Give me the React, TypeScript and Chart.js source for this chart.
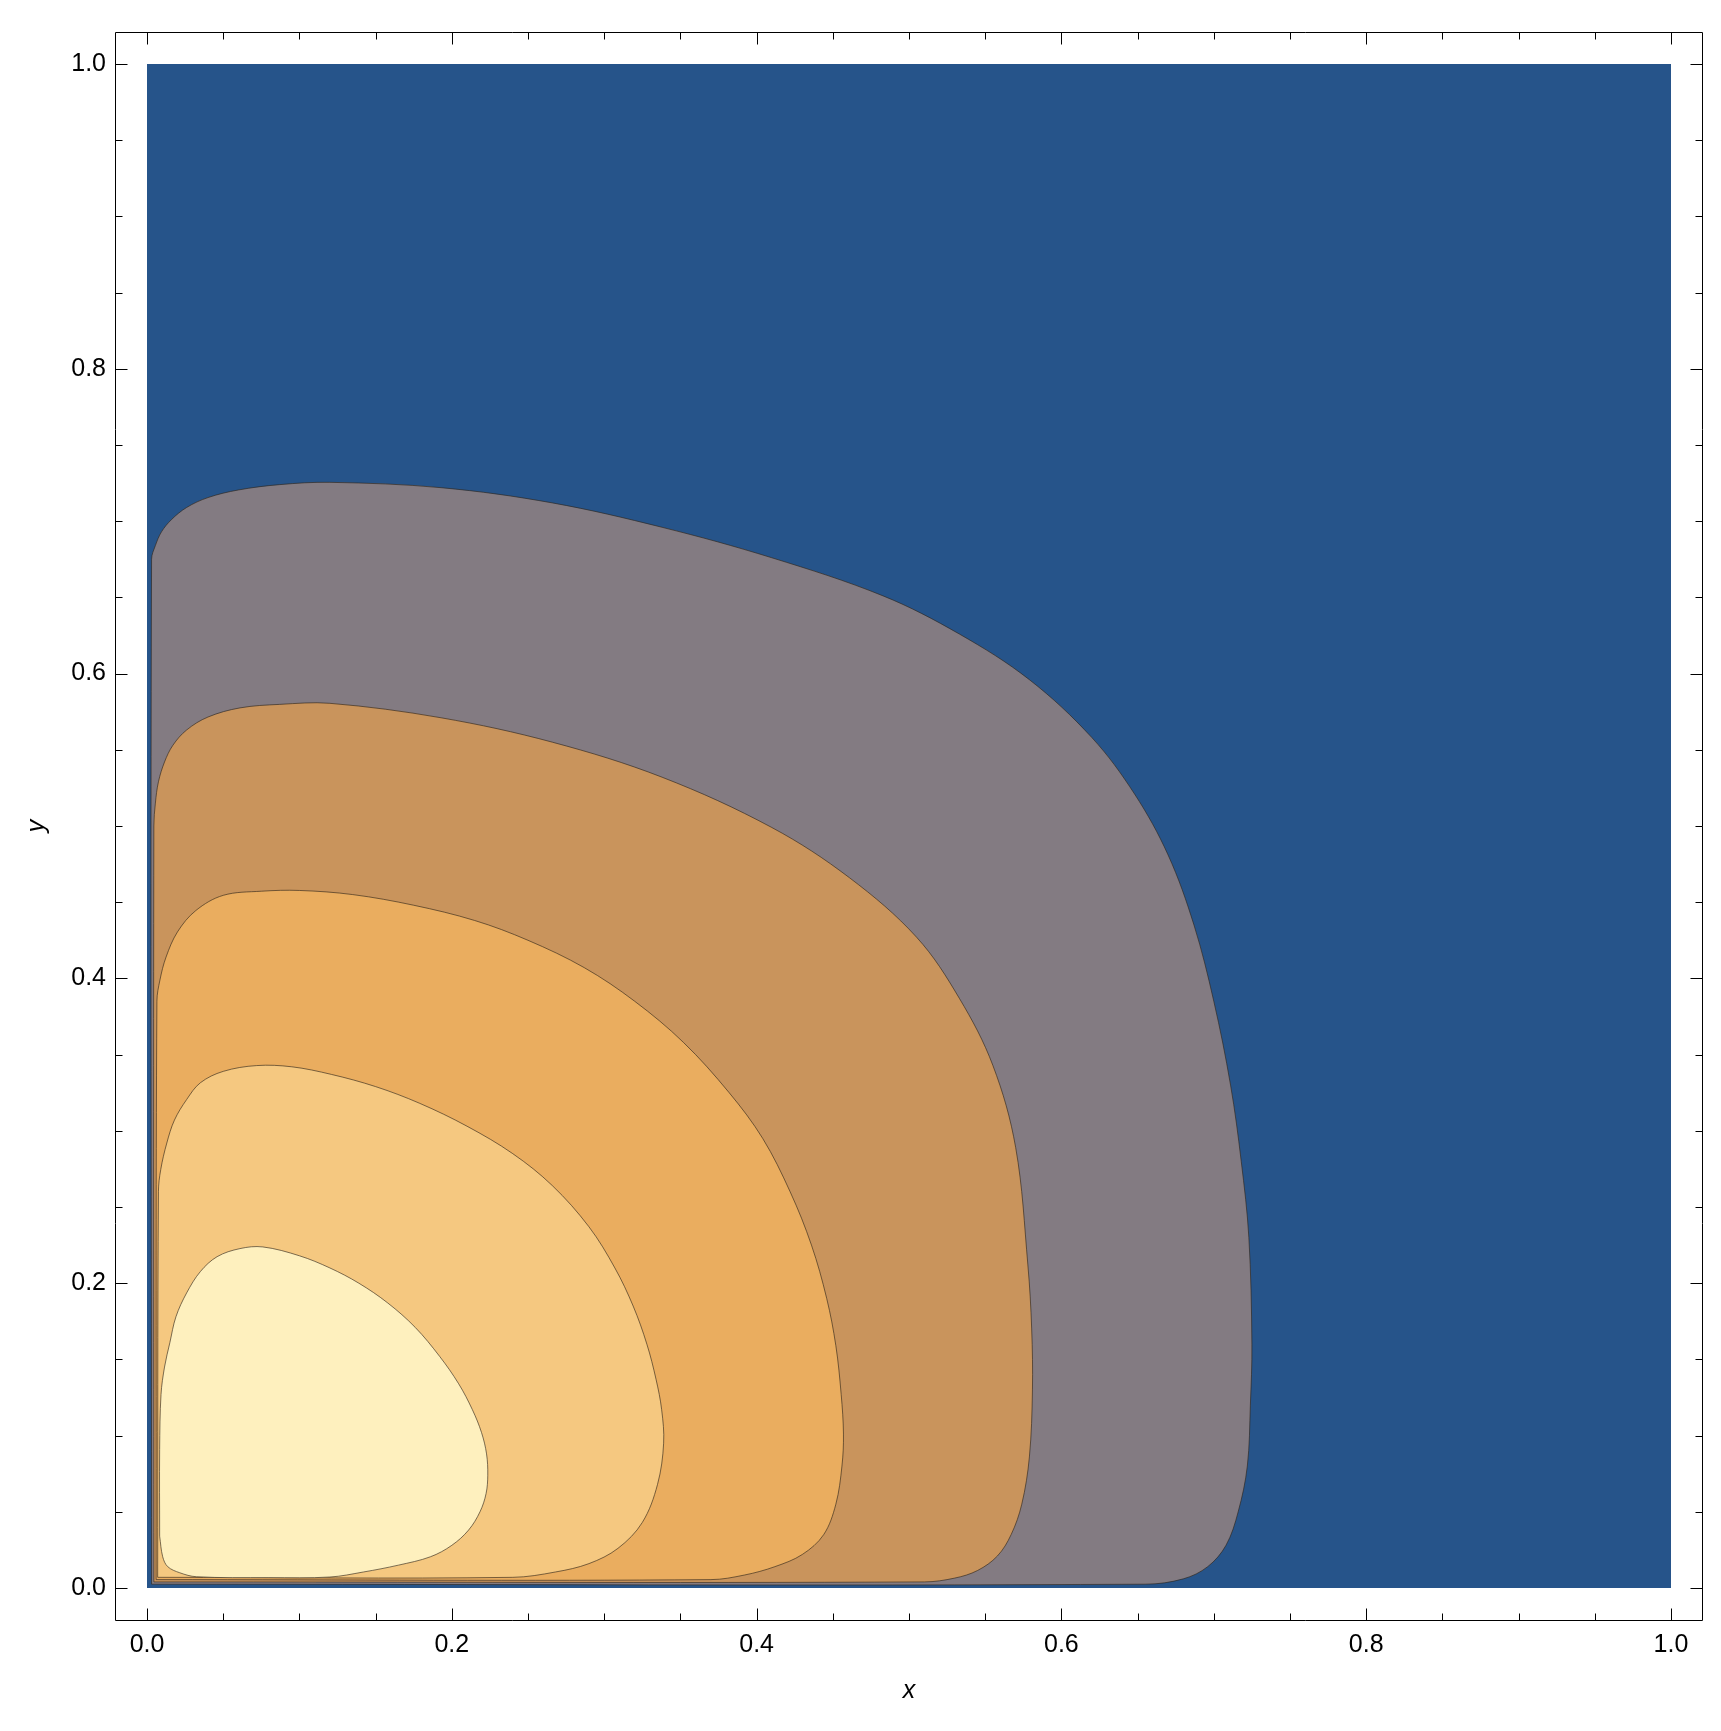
import React, { useEffect, useRef } from 'react';
import { Chart, registerables } from 'chart.js';

Chart.register(...registerables);

// ---- axes ----
const AXIS_MIN = -0.021;
const AXIS_MAX = 1.021;
const MAJOR_TICKS = [0, 0.2, 0.4, 0.6, 0.8, 1.0];
const MINOR_TICKS = [0.05, 0.1, 0.15, 0.25, 0.3, 0.35, 0.45, 0.5, 0.55, 0.65, 0.7, 0.75, 0.85, 0.9, 0.95];
const X_TITLE = 'x';
const Y_TITLE = 'y';

// ---- contour regions (outermost to innermost), [x, y] boundary points ----
const DOMAIN = [[0, 0], [1, 0], [1, 1], [0, 1]];

const LEVEL1 = [
  [0.003, 0.0025], [0.655, 0.0025], [0.68, 0.006], [0.696, 0.014], [0.708, 0.028], [0.716, 0.05],
  [0.722, 0.08], [0.724, 0.12], [0.725, 0.16], [0.723, 0.23], [0.718, 0.28], [0.711, 0.33],
  [0.7, 0.385], [0.687, 0.435], [0.67, 0.481], [0.648, 0.521], [0.62, 0.558], [0.579, 0.596],
  [0.533, 0.626], [0.483, 0.651], [0.41, 0.676], [0.338, 0.696], [0.266, 0.712], [0.193, 0.722],
  [0.12, 0.7255], [0.087, 0.724], [0.06, 0.7205], [0.04, 0.7155], [0.026, 0.709], [0.016, 0.701],
  [0.0095, 0.693], [0.0055, 0.684], [0.003, 0.675],
];

const LEVEL2 = [
  [0.0045, 0.004], [0.51, 0.004], [0.53, 0.0065], [0.545, 0.0115], [0.558, 0.021], [0.567, 0.035],
  [0.574, 0.055], [0.579, 0.086], [0.581, 0.13], [0.5805, 0.17], [0.578, 0.212], [0.57, 0.289],
  [0.555, 0.343], [0.533, 0.387], [0.505, 0.427], [0.461, 0.466], [0.41, 0.499], [0.338, 0.532],
  [0.266, 0.555], [0.193, 0.571], [0.12, 0.5805], [0.087, 0.5798], [0.061, 0.5775], [0.04, 0.5715],
  [0.026, 0.563], [0.017, 0.553], [0.0115, 0.542], [0.0075, 0.529], [0.0055, 0.515], [0.0045, 0.5],
];

const LEVEL3 = [
  [0.006, 0.0055], [0.37, 0.0055], [0.392, 0.0085], [0.412, 0.014], [0.43, 0.022], [0.444, 0.035],
  [0.452, 0.055], [0.456, 0.08], [0.457, 0.101], [0.4555, 0.127], [0.452, 0.159], [0.446, 0.19],
  [0.436, 0.225], [0.422, 0.26], [0.404, 0.295], [0.382, 0.325], [0.352, 0.358], [0.32, 0.385],
  [0.287, 0.407], [0.25, 0.425], [0.215, 0.438], [0.175, 0.448], [0.135, 0.455], [0.1, 0.4577],
  [0.075, 0.4572], [0.05, 0.4545], [0.032, 0.4445], [0.02, 0.4305], [0.0125, 0.414], [0.0085, 0.399],
  [0.0065, 0.385],
];

const LEVEL4 = [
  [0.007, 0.007], [0.24, 0.007], [0.268, 0.0105], [0.29, 0.016], [0.309, 0.026], [0.325, 0.043],
  [0.335, 0.068], [0.339, 0.095], [0.3377, 0.117], [0.334, 0.137], [0.328, 0.16], [0.319, 0.185],
  [0.307, 0.21], [0.29, 0.237], [0.266, 0.264], [0.24, 0.285], [0.21, 0.303], [0.179, 0.318],
  [0.15, 0.329], [0.121, 0.337], [0.095, 0.342], [0.072, 0.3428], [0.05, 0.339], [0.035, 0.3315],
  [0.026, 0.3205], [0.018, 0.307], [0.013, 0.292], [0.009, 0.2745], [0.0075, 0.26],
];

const LEVEL5 = [
  [0.0083, 0.034], [0.0103, 0.0205], [0.0136, 0.014], [0.0215, 0.01], [0.0324, 0.0074], [0.08, 0.0068],
  [0.12, 0.0072], [0.142, 0.0105], [0.165, 0.015], [0.186, 0.0205], [0.2, 0.028], [0.211, 0.038],
  [0.2185, 0.05], [0.2225, 0.062], [0.2236, 0.074], [0.2228, 0.088], [0.2195, 0.102], [0.2135, 0.117],
  [0.2045, 0.134], [0.192, 0.152], [0.176, 0.171], [0.158, 0.187], [0.139, 0.2], [0.12, 0.21],
  [0.1, 0.218], [0.076, 0.2238], [0.061, 0.2227], [0.046, 0.2174], [0.035, 0.2076], [0.026, 0.1936],
  [0.019, 0.178], [0.015, 0.161], [0.0115, 0.145], [0.0092, 0.127], [0.0083, 0.091],
];

const REGIONS = [LEVEL5, LEVEL4, LEVEL3, LEVEL2, LEVEL1, DOMAIN];
const REGION_COLORS = ['#FEF0BE', '#F5C880', '#EAAD5F', '#C9945C', '#837B82', '#26548A'];
const CONTOUR_LINE = 'rgba(45, 35, 25, 0.62)';

const FONT = "'Liberation Sans', Arial, sans-serif";

const frameTicks = {
  id: 'frameTicks',
  afterDraw(chart: any) {
    const { ctx, chartArea: a, scales } = chart;
    const xs = scales.x;
    const ys = scales.y;
    const L = Math.round(a.left) + 0.5;
    const R = Math.round(a.right) - 0.5;
    const T = Math.round(a.top) + 0.5;
    const B = Math.round(a.bottom) + 0.5;
    ctx.save();
    ctx.strokeStyle = '#000';
    ctx.lineWidth = 1;
    ctx.beginPath();
    ctx.rect(L, T, R - L, B - T);
    const draw = (vals: number[], len: number) => {
      for (const v of vals) {
        const px = Math.round(xs.getPixelForValue(v)) + 0.5;
        ctx.moveTo(px, B); ctx.lineTo(px, B - len);
        ctx.moveTo(px, T); ctx.lineTo(px, T + len);
        const py = Math.round(ys.getPixelForValue(v)) + 0.5;
        ctx.moveTo(L, py); ctx.lineTo(L + len, py);
        ctx.moveTo(R, py); ctx.lineTo(R - len, py);
      }
    };
    draw(MAJOR_TICKS, 12);
    draw(MINOR_TICKS, 7);
    ctx.stroke();
    ctx.restore();
  },
};

export default function App() {
  const ref = useRef<HTMLCanvasElement>(null);
  useEffect(() => {
    if (!ref.current) return;
    const datasets = REGIONS.map((pts, i) => {
      const isDomain = i === REGIONS.length - 1;
      return {
        data: pts.concat([pts[0]]).map(([x, y]) => ({ x, y })),
        showLine: true,
        fill: 'shape',
        backgroundColor: REGION_COLORS[i],
        borderColor: isDomain ? 'rgba(0,0,0,0)' : CONTOUR_LINE,
        borderWidth: isDomain ? 0 : 1,
        pointRadius: 0,
        pointHoverRadius: 0,
        tension: isDomain ? 0 : 0.35,
        borderJoinStyle: 'round',
      };
    });
    const tickFont = { family: FONT, size: 25 };
    const titleFont = { family: FONT, size: 25, style: 'italic', lineHeight: 1.2 };
    const chart = new Chart(ref.current, {
      type: 'scatter',
      data: { datasets } as any,
      plugins: [frameTicks],
      options: {
        animation: false,
        responsive: false,
        devicePixelRatio: 1,
        events: [],
        layout: { padding: { top: 24, right: 10, left: 0, bottom: 0 } },
        plugins: { legend: { display: false }, tooltip: { enabled: false } },
        scales: {
          x: {
            type: 'linear',
            position: 'bottom',
            min: AXIS_MIN,
            max: AXIS_MAX,
            grid: { display: false, drawTicks: false },
            border: { display: false },
            afterBuildTicks: (s: any) => { s.ticks = MAJOR_TICKS.map((v) => ({ value: v })); },
            afterFit: (s: any) => { s.height = 103; },
            ticks: {
              autoSkip: false, maxRotation: 0, minRotation: 0, padding: 10,
              color: '#000', font: tickFont,
              callback: (v: any) => Number(v).toFixed(1),
            },
            title: { display: true, text: X_TITLE, color: '#000', font: titleFont, padding: { top: 0, bottom: 17 } },
          },
          y: {
            type: 'linear',
            position: 'left',
            min: AXIS_MIN,
            max: AXIS_MAX,
            grid: { display: false, drawTicks: false },
            border: { display: false },
            afterBuildTicks: (s: any) => { s.ticks = MAJOR_TICKS.map((v) => ({ value: v })); },
            afterFit: (s: any) => { s.width = 107; },
            ticks: {
              autoSkip: false, padding: 9,
              color: '#000', font: tickFont,
              callback: (v: any) => Number(v).toFixed(1),
            },
            title: { display: true, text: Y_TITLE, color: '#000', font: titleFont, padding: { top: 14, bottom: 0 } },
          },
        },
      } as any,
    });
    return () => chart.destroy();
  }, []);
  return <canvas ref={ref} width={1705} height={1715} style={{ display: 'block' }} />;
}
